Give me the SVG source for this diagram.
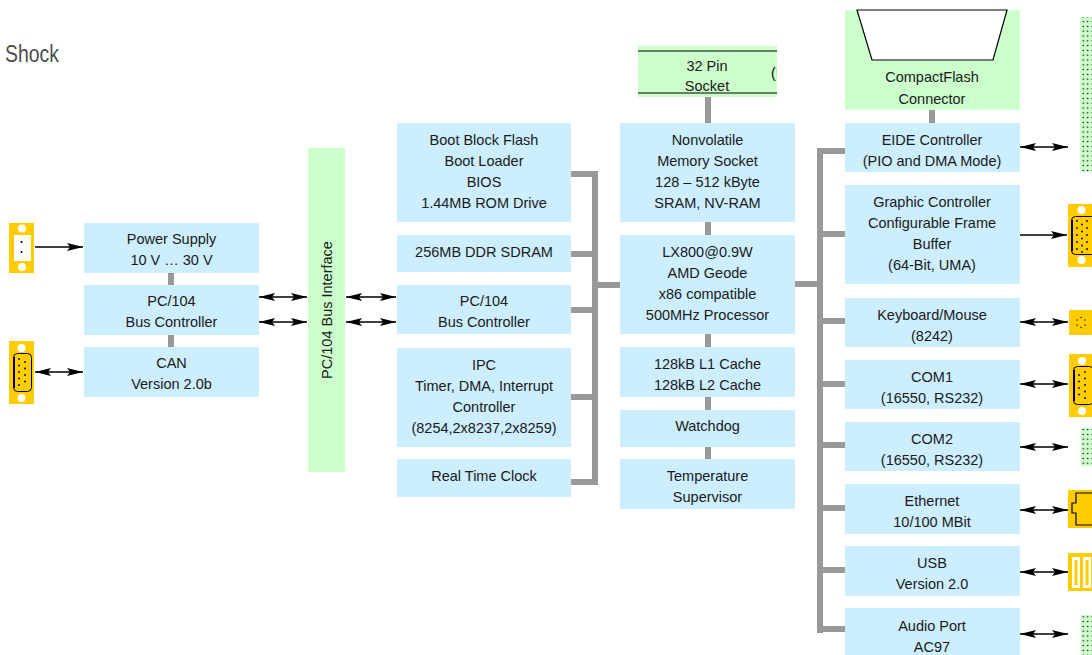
<svg xmlns="http://www.w3.org/2000/svg" width="1092" height="655" viewBox="0 0 1092 655">
<defs>
<style>
.b{fill:#cceeff}
.g{fill:#ccffcc}
.y{fill:#ffcc00}
.w{fill:#ffffff}
.t{font-family:"Liberation Sans",Arial,sans-serif;font-size:14.5px;fill:#1a1a1a;text-anchor:middle}
.bar{fill:#999999}
.arr{stroke:#000;stroke-width:1.5;fill:none}
.dot{fill:#000}
.shell{fill:#ffcc00;stroke:#000;stroke-width:1}
</style>
<marker id="ah" viewBox="0 0 16 8" refX="16" refY="4" markerWidth="16" markerHeight="8" markerUnits="userSpaceOnUse" orient="auto-start-reverse">
<path d="M0,0 L16,4 L0,8 L3,4 z" fill="#000"/>
</marker>
<pattern id="pins" x="1081" y="0" width="4.5" height="4.8" patternUnits="userSpaceOnUse">
<circle cx="2.2" cy="2.4" r="0.8" fill="#000"/>
</pattern>
<clipPath id="sockclip"><rect x="638" y="46" width="139" height="51"/></clipPath>
</defs>

<text x="5" y="62" font-family="Liberation Sans,Arial,sans-serif" font-size="23" fill="#4d4d4d" textLength="54" lengthAdjust="spacingAndGlyphs">Shock</text>

<g id="connectors">
<!-- left column links -->
<rect class="bar" x="168" y="273" width="6" height="12"/>
<rect class="bar" x="168" y="335" width="6" height="12"/>
<!-- middle col 1 bracket -->
<rect class="bar" x="571" y="171" width="27" height="6"/>
<rect class="bar" x="592" y="171" width="6" height="314"/>
<rect class="bar" x="571" y="251" width="21" height="6"/>
<rect class="bar" x="571" y="307" width="21" height="6"/>
<rect class="bar" x="571" y="394" width="21" height="6"/>
<rect class="bar" x="571" y="479" width="27" height="6"/>
<rect class="bar" x="598" y="282" width="22" height="6"/>
<!-- middle col 2 links -->
<rect class="bar" x="705" y="97" width="6" height="26"/>
<rect class="bar" x="705" y="222" width="6" height="13"/>
<rect class="bar" x="705" y="334" width="6" height="13"/>
<rect class="bar" x="705" y="397" width="6" height="13"/>
<rect class="bar" x="705" y="447" width="6" height="12"/>
<!-- right bracket -->
<rect class="bar" x="795" y="281" width="22" height="6"/>
<rect class="bar" x="817" y="148" width="6" height="485"/>
<rect class="bar" x="817" y="148" width="28" height="6"/>
<rect class="bar" x="823" y="231" width="22" height="6"/>
<rect class="bar" x="823" y="318" width="22" height="6"/>
<rect class="bar" x="823" y="381" width="22" height="6"/>
<rect class="bar" x="823" y="442" width="22" height="6"/>
<rect class="bar" x="823" y="505" width="22" height="6"/>
<rect class="bar" x="823" y="567" width="22" height="6"/>
<rect class="bar" x="823" y="626" width="22" height="6"/>
<rect class="bar" x="929" y="110" width="6" height="13"/>
<!-- arrows -->
<line class="arr" x1="35" y1="247" x2="83" y2="247" marker-end="url(#ah)"/>
<line class="arr" x1="35" y1="372" x2="83" y2="372" marker-start="url(#ah)" marker-end="url(#ah)"/>
<line class="arr" x1="259" y1="297" x2="307" y2="297" marker-start="url(#ah)" marker-end="url(#ah)"/>
<line class="arr" x1="259" y1="322" x2="307" y2="322" marker-start="url(#ah)" marker-end="url(#ah)"/>
<line class="arr" x1="346" y1="297" x2="396" y2="297" marker-start="url(#ah)" marker-end="url(#ah)"/>
<line class="arr" x1="346" y1="322" x2="396" y2="322" marker-start="url(#ah)" marker-end="url(#ah)"/>
<line class="arr" x1="1020" y1="147" x2="1068" y2="147" marker-start="url(#ah)" marker-end="url(#ah)"/>
<line class="arr" x1="1019" y1="235" x2="1067" y2="235" marker-end="url(#ah)"/>
<line class="arr" x1="1020" y1="322" x2="1068" y2="322" marker-start="url(#ah)" marker-end="url(#ah)"/>
<line class="arr" x1="1020" y1="384" x2="1068" y2="384" marker-start="url(#ah)" marker-end="url(#ah)"/>
<line class="arr" x1="1020" y1="447" x2="1068" y2="447" marker-start="url(#ah)" marker-end="url(#ah)"/>
<line class="arr" x1="1020" y1="510" x2="1068" y2="510" marker-start="url(#ah)" marker-end="url(#ah)"/>
<line class="arr" x1="1020" y1="572" x2="1068" y2="572" marker-start="url(#ah)" marker-end="url(#ah)"/>
<line class="arr" x1="1020" y1="634" x2="1068" y2="634" marker-start="url(#ah)" marker-end="url(#ah)"/>
</g>

<!-- left column -->
<g id="power-supply"><rect class="b" x="84" y="223" width="175" height="50"/>
<text class="t" x="171.5" y="244">Power Supply</text><text class="t" x="171.5" y="265">10 V … 30 V</text></g>
<g id="pc104-bus-controller-left"><rect class="b" x="84" y="285" width="175" height="50"/>
<text class="t" x="171.5" y="306">PC/104</text><text class="t" x="171.5" y="327">Bus Controller</text></g>
<g id="can"><rect class="b" x="84" y="347" width="175" height="50"/>
<text class="t" x="171.5" y="368">CAN</text><text class="t" x="171.5" y="389">Version 2.0b</text></g>

<g id="pc104-bus-interface"><rect class="g" x="308" y="148" width="37" height="324"/>
<text class="t" transform="translate(332,310) rotate(-90)" x="0" y="0">PC/104 Bus Interface</text></g>

<!-- middle column 1 -->
<g id="boot-flash"><rect class="b" x="397" y="123" width="174" height="99"/>
<text class="t" x="484" y="145">Boot Block Flash</text><text class="t" x="484" y="166">Boot Loader</text><text class="t" x="484" y="187">BIOS</text><text class="t" x="484" y="208">1.44MB ROM Drive</text></g>
<g id="sdram"><rect class="b" x="397" y="235" width="174" height="37"/>
<text class="t" x="484" y="257">256MB DDR SDRAM</text></g>
<g id="pc104-bus-controller"><rect class="b" x="397" y="285" width="174" height="49"/>
<text class="t" x="484" y="306">PC/104</text><text class="t" x="484" y="327">Bus Controller</text></g>
<g id="ipc"><rect class="b" x="397" y="348" width="174" height="99"/>
<text class="t" x="484" y="370">IPC</text><text class="t" x="484" y="391">Timer, DMA, Interrupt</text><text class="t" x="484" y="412">Controller</text><text class="t" x="484" y="433">(8254,2x8237,2x8259)</text></g>
<g id="rtc"><rect class="b" x="397" y="459" width="174" height="38"/>
<text class="t" x="484" y="481">Real Time Clock</text></g>

<!-- middle column 2 -->
<g id="pin-socket"><rect class="g" x="638" y="46" width="139" height="51"/>
<line x1="638" y1="51" x2="777" y2="51" stroke="#000" stroke-width="1.2"/>
<line x1="638" y1="93" x2="777" y2="93" stroke="#000" stroke-width="1.2"/>
<text class="t" x="707" y="71">32 Pin</text><text class="t" x="707" y="91">Socket</text>
<text clip-path="url(#sockclip)" x="771" y="78" font-family="Liberation Sans,Arial,sans-serif" font-size="14" fill="#000">(I</text></g>
<g id="nonvolatile"><rect class="b" x="620" y="123" width="175" height="99"/>
<text class="t" x="707.5" y="145">Nonvolatile</text><text class="t" x="707.5" y="166">Memory Socket</text><text class="t" x="707.5" y="187">128 – 512 kByte</text><text class="t" x="707.5" y="208">SRAM, NV-RAM</text></g>
<g id="cpu"><rect class="b" x="620" y="235" width="175" height="99"/>
<text class="t" x="707.5" y="257">LX800@0.9W</text><text class="t" x="707.5" y="278">AMD Geode</text><text class="t" x="707.5" y="299">x86 compatible</text><text class="t" x="707.5" y="320">500MHz Processor</text></g>
<g id="cache"><rect class="b" x="620" y="347" width="175" height="50"/>
<text class="t" x="707.5" y="369">128kB L1 Cache</text><text class="t" x="707.5" y="390">128kB L2 Cache</text></g>
<g id="watchdog"><rect class="b" x="620" y="410" width="175" height="37"/>
<text class="t" x="707.5" y="431">Watchdog</text></g>
<g id="temperature"><rect class="b" x="620" y="459" width="175" height="50"/>
<text class="t" x="707.5" y="481">Temperature</text><text class="t" x="707.5" y="502">Supervisor</text></g>

<!-- right column -->
<g id="compactflash"><rect class="g" x="845" y="10" width="175" height="100"/>
<path d="M857,10 L1007,10 L993,60 L872,60 z" fill="#fff" stroke="#000" stroke-width="1.2"/>
<text class="t" x="932" y="82">CompactFlash</text><text class="t" x="932" y="104">Connector</text></g>
<g id="eide"><rect class="b" x="845" y="123" width="175" height="49"/>
<text class="t" x="932" y="145">EIDE Controller</text><text class="t" x="932" y="166">(PIO and DMA Mode)</text></g>
<g id="graphic"><rect class="b" x="845" y="185" width="175" height="99"/>
<text class="t" x="932" y="207">Graphic Controller</text><text class="t" x="932" y="228">Configurable Frame</text><text class="t" x="932" y="249">Buffer</text><text class="t" x="932" y="270">(64-Bit, UMA)</text></g>
<g id="keyboard"><rect class="b" x="845" y="298" width="175" height="49"/>
<text class="t" x="932" y="320">Keyboard/Mouse</text><text class="t" x="932" y="341">(8242)</text></g>
<g id="com1"><rect class="b" x="845" y="360" width="175" height="49"/>
<text class="t" x="932" y="382">COM1</text><text class="t" x="932" y="403">(16550, RS232)</text></g>
<g id="com2"><rect class="b" x="845" y="422" width="175" height="49"/>
<text class="t" x="932" y="444">COM2</text><text class="t" x="932" y="465">(16550, RS232)</text></g>
<g id="ethernet"><rect class="b" x="845" y="484" width="175" height="50"/>
<text class="t" x="932" y="506">Ethernet</text><text class="t" x="932" y="527">10/100 MBit</text></g>
<g id="usb"><rect class="b" x="845" y="546" width="175" height="50"/>
<text class="t" x="932" y="568">USB</text><text class="t" x="932" y="589">Version 2.0</text></g>
<g id="audio"><rect class="b" x="845" y="608" width="175" height="50"/>
<text class="t" x="932" y="631">Audio Port</text><text class="t" x="932" y="652">AC97</text></g>

<!-- physical connectors -->
<g id="conn-power"><rect class="y" x="9" y="223" width="25" height="50"/>
<circle class="w" cx="22" cy="228.5" r="4"/><circle class="w" cx="22" cy="267" r="4"/>
<rect class="w" x="14" y="235" width="17" height="26"/>
<circle class="dot" cx="21.5" cy="242" r="1"/><circle class="dot" cx="21.5" cy="252" r="1"/></g>
<g id="conn-can"><rect class="y" x="9" y="341" width="25" height="63"/>
<circle class="w" cx="21.5" cy="348" r="4"/><circle class="w" cx="21.5" cy="398" r="4"/>
<rect class="shell" x="13.5" y="353.5" width="18" height="38" rx="4"/>
<line x1="14" y1="357" x2="14" y2="388" stroke="#000" stroke-width="2"/>
<circle class="dot" cx="19" cy="359" r="0.9"/><circle class="dot" cx="19" cy="365.5" r="0.9"/><circle class="dot" cx="19" cy="372" r="0.9"/><circle class="dot" cx="19" cy="378.5" r="0.9"/><circle class="dot" cx="19" cy="385" r="0.9"/>
<circle class="dot" cx="25" cy="362" r="0.9"/><circle class="dot" cx="25" cy="368.5" r="0.9"/><circle class="dot" cx="25" cy="375" r="0.9"/><circle class="dot" cx="25" cy="381.5" r="0.9"/></g>

<g id="conn-eide"><rect class="g" x="1080" y="17" width="12" height="155"/>
<rect x="1080" y="17" width="12" height="155" fill="url(#pins)"/></g>
<g id="conn-vga"><rect class="y" x="1068" y="204" width="24" height="63"/>
<circle class="w" cx="1081.5" cy="210" r="4"/><circle class="w" cx="1081.5" cy="260" r="4"/>
<rect class="shell" x="1071.5" y="216.5" width="24" height="38" rx="4"/>
<line x1="1072" y1="220" x2="1072" y2="251" stroke="#000" stroke-width="2"/>
<circle class="dot" cx="1077" cy="221" r="0.9"/><circle class="dot" cx="1077" cy="228" r="0.9"/><circle class="dot" cx="1077" cy="235" r="0.9"/><circle class="dot" cx="1077" cy="242" r="0.9"/><circle class="dot" cx="1077" cy="249" r="0.9"/>
<circle class="dot" cx="1082" cy="224.5" r="0.9"/><circle class="dot" cx="1082" cy="231.5" r="0.9"/><circle class="dot" cx="1082" cy="238.5" r="0.9"/><circle class="dot" cx="1082" cy="245.5" r="0.9"/><circle class="dot" cx="1082" cy="252" r="0.9"/>
<circle class="dot" cx="1087" cy="221" r="0.9"/><circle class="dot" cx="1087" cy="228" r="0.9"/><circle class="dot" cx="1087" cy="235" r="0.9"/><circle class="dot" cx="1087" cy="242" r="0.9"/><circle class="dot" cx="1087" cy="249" r="0.9"/></g>
<g id="conn-ps2"><rect class="y" x="1069" y="310" width="23" height="25"/>
<circle class="dot" cx="1081" cy="317.5" r="0.7"/><circle class="dot" cx="1077" cy="320" r="0.7"/><circle class="dot" cx="1085" cy="320" r="0.7"/><circle class="dot" cx="1077" cy="325" r="0.7"/><circle class="dot" cx="1085" cy="325" r="0.7"/><circle class="dot" cx="1081" cy="327.5" r="0.7"/></g>
<g id="conn-com1"><rect class="y" x="1069" y="354" width="23" height="63"/>
<circle class="w" cx="1082" cy="361" r="4"/><circle class="w" cx="1082" cy="411" r="4"/>
<rect class="shell" x="1073.5" y="366.5" width="20" height="38" rx="4"/>
<line x1="1074" y1="370" x2="1074" y2="401" stroke="#000" stroke-width="2"/>
<circle class="dot" cx="1079" cy="375" r="0.9"/><circle class="dot" cx="1079" cy="381.5" r="0.9"/><circle class="dot" cx="1079" cy="388" r="0.9"/><circle class="dot" cx="1079" cy="394.5" r="0.9"/>
<circle class="dot" cx="1085" cy="372" r="0.9"/><circle class="dot" cx="1085" cy="378.5" r="0.9"/><circle class="dot" cx="1085" cy="385" r="0.9"/><circle class="dot" cx="1085" cy="391.5" r="0.9"/><circle class="dot" cx="1085" cy="398" r="0.9"/></g>
<g id="conn-com2"><rect class="g" x="1081" y="428" width="11" height="38"/>
<rect x="1081" y="428" width="11" height="38" fill="url(#pins)"/></g>
<g id="conn-ethernet"><rect class="y" x="1068" y="490" width="24" height="38"/>
<path d="M1093,493 L1076,493 L1076,503 L1072,503 L1072,513 L1076,513 L1076,525 L1093,525" fill="none" stroke="#000" stroke-width="1.2"/></g>
<g id="conn-usb"><rect class="y" x="1068" y="553" width="24" height="38"/>
<rect class="w" x="1072" y="557" width="8" height="31"/><rect class="y" x="1074.5" y="560" width="3" height="25"/>
<rect class="w" x="1083" y="557" width="8" height="31"/><rect class="y" x="1085.5" y="560" width="3" height="25"/></g>
<g id="conn-audio"><rect class="g" x="1081" y="615" width="11" height="40"/>
<rect x="1081" y="615" width="11" height="40" fill="url(#pins)"/></g>
</svg>
